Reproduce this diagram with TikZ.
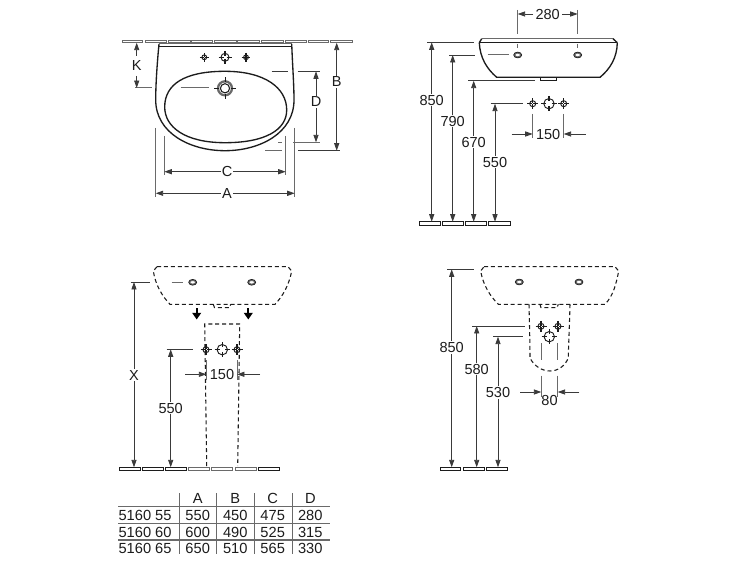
\documentclass[tikz,border=0pt]{standalone}
\usepackage{fontspec}
\setmainfont{Liberation Sans}
\usetikzlibrary{arrows.meta}
\definecolor{ink}{HTML}{1C1C1C}
\definecolor{dimc}{HTML}{3A3A3A}
\definecolor{soft}{HTML}{6A6A6A}
\tikzset{
  dimline/.style={draw=dimc,line width=0.65pt},
  dimarrow/.style={dimline,-{Triangle[length=5.6pt,width=3.8pt]}},
  dimboth/.style={dimline,{Triangle[length=5.6pt,width=3.8pt]}-{Triangle[length=5.6pt,width=3.8pt]}},
  softline/.style={draw=soft,line width=0.75pt},
  ware/.style={draw=ink,line width=1pt},
  dashware/.style={draw=ink,line width=0.8pt,dash pattern=on 3pt off 2.2pt},
  floorpiece/.style={draw=ink,line width=0.6pt,fill=white},
  softfloor/.style={draw=soft,line width=0.6pt,fill=white},
  dimlabel/.style={fill=white,inner sep=0.8pt,text=ink,font=\fontsize{10.9}{13}\selectfont},
  tabletext/.style={inner sep=0pt,text=ink,font=\fontsize{11}{13}\selectfont},
  tablerule/.style={draw=soft,line width=0.95pt},
  tablecol/.style={draw=soft,line width=0.75pt},
  dropmark/.style={draw=black,line width=1.6pt,-{Triangle[length=5pt,width=6.5pt]}}
}
\newcommand{\fitting}[4]{% x y r tick
  \draw[draw=ink,line width=0.7pt] (#1,#2) circle[radius=#3];
  \draw[draw=ink,line width=0.8pt] (#1-#3-#4,#2) -- (#1-#3+#4,#2) (#1+#3-#4,#2) -- (#1+#3+#4,#2)
     (#1,#2-#3-#4) -- (#1,#2-#3+#4) (#1,#2+#3-#4) -- (#1,#2+#3+#4);
}
\newcommand{\hole}[2]{%
  \draw[draw=soft,line width=1.1pt] (#1,#2) ellipse[x radius=3.2,y radius=2.1];
  \draw[draw=ink,line width=0.5pt] (#1,#2) ellipse[x radius=4,y radius=2.9];
}
\begin{document}
\begin{tikzpicture}[x=0.75pt,y=-0.75pt]
\useasboundingbox (0,0) rectangle (750,563);
\fill[white] (0,0) rectangle (750,563);

% ---------- top view ----------
\foreach \a/\b in {122.3/142.7,145/166.7,168/190,191.7/212.7,214/236,237.7/259,261.7/283,285/306.7,308/328,330.7/352.3}
  \draw[softfloor] (\a,40) rectangle (\b,42.7);
\draw[ware] (159,44) .. controls (157,65) and (155.7,85) .. (155.7,100)
  .. controls (155.7,133) and (190,150.7) .. (225,150.7)
  .. controls (260,150.7) and (294,133) .. (294,100)
  .. controls (294,85) and (292.5,65) .. (291.7,44);
\draw[ware] (159,46.5) -- (291.7,46.5);
\draw[softline] (159,44) -- (291.7,44);
\draw[ware] (164.7,107) .. controls (164.7,84) and (185,71.3) .. (225,71.3)
  .. controls (265,71.3) and (286.7,88) .. (286.7,110)
  .. controls (286.7,130) and (265,142.7) .. (225,142.7)
  .. controls (185,142.7) and (164.7,127) .. cycle;
\fitting{204.3}{57.3}{2.4}{2}
\fitting{225}{57.3}{4}{2.5}
\fitting{246}{57.3}{2.4}{2}
\draw[draw=soft,line width=1.7pt] (225,88.3) circle[radius=7];
\draw[draw=ink,line width=0.8pt] (225,88.3) circle[radius=4.6];
\draw[draw=ink,line width=0.7pt] (225,77.5) -- (225,82) (225,94.5) -- (225,99) (214,88.3) -- (219,88.3) (231,88.3) -- (236,88.3);
\draw[softline] (180.7,87.7) -- (209,87.7);

\draw[softline] (135,88) -- (151.7,88);
\draw[dimarrow] (136.7,56) -- (136.7,42.7);
\draw[dimarrow] (136.7,76) -- (136.7,88);
\node[dimlabel] (lblK) at (136.7,66) {K};

\draw[dimboth] (336.7,42.7) -- (336.7,150.7);
\node[dimlabel] (lblB) at (336.7,82) {B};
\draw[softline] (265,150.7) -- (281.7,150.7);
\draw[dimline] (298,150.7) -- (340,150.7);

\draw[dimboth] (316,71.3) -- (316,142.3);
\node[dimlabel] (lblD) at (316,101.7) {D};
\draw[dimline] (271.7,71.3) -- (288.3,71.3) (297.7,71.3) -- (320,71.3);
\draw[softline] (278,142.3) -- (282,142.3) (293,142.3) -- (320,142.3);

\draw[softline] (164.3,136) -- (164.3,175) (285.7,136) -- (285.7,175);
\draw[dimboth] (164.3,171.7) -- (285.7,171.7);
\node[dimlabel] (lblC) at (227,171.7) {C};
\draw[softline] (155.7,128) -- (155.7,197) (294.7,128) -- (294.7,197);
\draw[dimboth] (155.7,193.3) -- (294.7,193.3);
\node[dimlabel] (lblA) at (227,193.3) {A};

% ---------- side view ----------
\draw[softline] (481.7,38.7) -- (613,38.7);
\draw[ware] (481.7,38.7) -- (479.3,42.7) (613,38.7) -- (617.3,42.7);
\draw[ware] (479.3,42.7) -- (617.3,42.7);
\draw[ware] (479.3,42.7) .. controls (480,58) and (487,69) .. (496.7,77.3) -- (600,77.3)
  .. controls (610,69) and (617,58) .. (617.3,42.7);
\draw[draw=ink,line width=0.5pt] (540,77.3) rectangle (556.7,80.7);
\hole{517.7}{55}
\hole{577.7}{55}
\draw[softline] (517.7,10) -- (517.7,34.5) (517.7,44) -- (517.7,48);
\draw[softline] (577.7,10) -- (577.7,34.5) (577.7,44) -- (577.7,48);
\draw[dimarrow] (533,14) -- (517.7,14);
\draw[dimarrow] (562,14) -- (577.7,14);
\node[dimlabel,fill=none] (lbl280) at (547.7,14) {280};

\foreach \a/\b in {419.3/440.7,442.3/463.3,465.3/486,488/510.7}
  \draw[floorpiece] (\a,221.7) rectangle (\b,225);
\draw[dimboth] (431.7,42.3) -- (431.7,221.7);
\draw[dimline] (427,42.3) -- (474,42.3);
\node[dimlabel] (side850) at (431.7,100) {850};
\draw[dimboth] (452.7,55) -- (452.7,221.7);
\draw[dimline] (449,55) -- (475,55);
\draw[softline] (487.7,55) -- (509,55);
\node[dimlabel] (side790) at (452.7,121) {790};
\draw[dimboth] (473.7,80.7) -- (473.7,221.7);
\draw[dimline] (468.3,80.7) -- (535,80.7);
\node[dimlabel] (side670) at (473.7,142) {670};
\draw[dimboth] (495,103.7) -- (495,221.7);
\draw[dimline] (490.7,103.7) -- (522.7,103.7);
\node[dimlabel] (side550) at (495,162) {550};
\fitting{532.7}{103.7}{3}{2.5}
\fitting{549}{103.7}{5.2}{2.5}
\fitting{563.7}{103.7}{3}{2.5}
\draw[softline] (532.7,114) -- (532.7,138) (563.7,114) -- (563.7,138);
\draw[dimarrow] (511.7,134) -- (532.7,134);
\draw[dimarrow] (585.7,134) -- (563.7,134);
\node[dimlabel,fill=none] (side150) at (548.2,134) {150};

% ---------- pedestal front ----------
\draw[dashware] (157,266.7) -- (288,266.7) -- (291.7,271) .. controls (289,285) and (283,296) .. (275,304.3)
  -- (170,304.3) .. controls (162,296) and (155.5,285) .. (153.3,271) -- cycle;
\draw[dashware] (213.3,304.3) -- (214.5,307.7) -- (229.5,307.7) -- (230.7,304.3);
\hole{192.7}{282.3}
\hole{251.7}{282.3}
\draw[softline] (171.7,282.3) -- (183.3,282.3);
\draw[dropmark] (196.7,308) -- (196.7,319.5);
\draw[dropmark] (248.3,308) -- (248.3,319.5);
\draw[dashware] (206.7,466) -- (204.7,324) -- (239.7,324) -- (237.7,466);

\foreach \a/\b in {119.3/140,142.3/163.3,165.3/186,258.3/279}
  \draw[floorpiece] (\a,467.3) rectangle (\b,470.7);
\foreach \a/\b in {188.3/209.3,211.7/232.7,235/256}
  \draw[softfloor] (\a,467.3) rectangle (\b,470.7);
\draw[dimboth] (134,282) -- (134,467.3);
\draw[dimline] (130.7,282) -- (150,282);
\node[dimlabel] (lblX) at (134,375) {X};
\draw[dimboth] (170.7,349.3) -- (170.7,467.3);
\draw[dimline] (166.7,349.3) -- (192.7,349.3);
\node[dimlabel] (ped550) at (170.7,408) {550};
\fitting{206}{349.7}{3}{2.5}
\fitting{222.3}{349.7}{5.2}{2.5}
\fitting{237}{349.7}{3}{2.5}
\draw[softline] (206.3,360) -- (206.3,380) (237,360) -- (237,380);
\draw[dimarrow] (185,374.3) -- (206.3,374.3);
\draw[dimarrow] (260,374.3) -- (237,374.3);
\node[dimlabel,fill=none] (ped150) at (222,374.5) {150};

% ---------- semi pedestal ----------
\draw[dashware] (484,266.7) -- (615,266.7) -- (618.7,271) .. controls (616,285) and (613,296) .. (605,304.3)
  -- (498.3,304.3) .. controls (490,296) and (483,285) .. (480.7,271) -- cycle;
\draw[dashware] (540,304.3) -- (541,307.7) -- (557,307.7) -- (558.3,304.3);
\hole{519.3}{282}
\hole{579}{282}
\draw[dashware] (529,304.3) .. controls (529.5,325) and (530,345) .. (530,358)
  .. controls (534,366) and (542,371) .. (550,371)
  .. controls (558,371) and (565,366) .. (568.3,358)
  .. controls (568.5,345) and (569.5,325) .. (570,304.3);
\foreach \a/\b in {440/460.7,463.3/484,486/507.3}
  \draw[floorpiece] (\a,467.3) rectangle (\b,470.7);
\draw[dimboth] (451.7,269.3) -- (451.7,467.3);
\draw[dimline] (447.3,269.3) -- (474.3,269.3);
\node[dimlabel] (semi850) at (451.7,347.7) {850};
\draw[dimboth] (476.7,326) -- (476.7,467.3);
\draw[dimline] (472.3,326) -- (524.7,326);
\node[dimlabel] (semi580) at (476.7,369) {580};
\draw[dimboth] (498,336.7) -- (498,467.3);
\draw[dimline] (493.3,336.7) -- (522.7,336.7);
\node[dimlabel] (semi530) at (498,392.3) {530};
\fitting{541}{326.3}{3}{2.5}
\fitting{558}{326.3}{3}{2.5}
\fitting{549.3}{336.7}{5.2}{2.5}
\draw[softline] (541.3,343.3) -- (541.3,360) (557.7,343.3) -- (557.7,360);
\draw[softline] (541.3,375.7) -- (541.3,396.7) (557.7,375.7) -- (557.7,396.7);
\draw[dimarrow] (520,392) -- (541.3,392);
\draw[dimarrow] (579.3,392) -- (557.7,392);
\node[dimlabel,fill=none] (semi80) at (549.5,400.5) {80};

% ---------- table ----------
\foreach \yy in {506.7,523.3,540}
  \draw[tablerule] (118.3,\yy) -- (330,\yy);
\foreach \xx in {179,216.7,254.3,292}
  \draw[tablecol] (\xx,493.3) -- (\xx,554.3);
\node[tabletext] (hA) at (197.7,498.6) {A};
\node[tabletext] (hB) at (235.3,498.6) {B};
\node[tabletext] (hC) at (272.7,498.6) {C};
\node[tabletext] (hD) at (310.3,498.6) {D};
\node[tabletext,anchor=west] (r1) at (118.3,515.7) {5160 55};
\node[tabletext] (a1) at (197.7,515.7) {550};
\node[tabletext] (b1) at (235.3,515.7) {450};
\node[tabletext] (c1) at (272.7,515.7) {475};
\node[tabletext] (d1) at (310.3,515.7) {280};
\node[tabletext,anchor=west] (r2) at (118.3,532.3) {5160 60};
\node[tabletext] (a2) at (197.7,532.3) {600};
\node[tabletext] (b2) at (235.3,532.3) {490};
\node[tabletext] (c2) at (272.7,532.3) {525};
\node[tabletext] (d2) at (310.3,532.3) {315};
\node[tabletext,anchor=west] (r3) at (118.3,548.3) {5160 65};
\node[tabletext] (a3) at (197.7,548.3) {650};
\node[tabletext] (b3) at (235.3,548.3) {510};
\node[tabletext] (c3) at (272.7,548.3) {565};
\node[tabletext] (d3) at (310.3,548.3) {330};
\end{tikzpicture}
\end{document}
